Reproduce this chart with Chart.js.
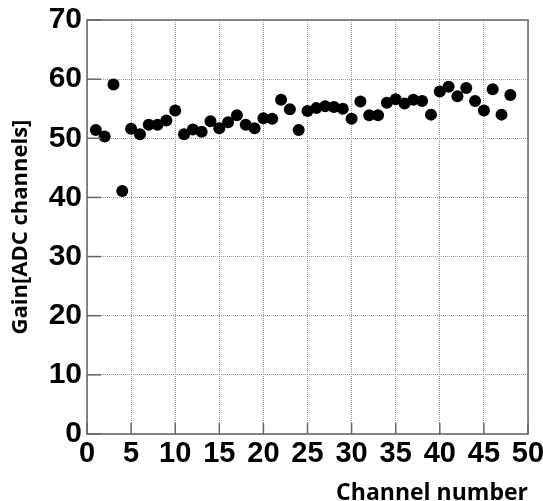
<!DOCTYPE html>
<html>
<head>
<meta charset="utf-8">
<script src="https://cdn.jsdelivr.net/npm/chart.js@4"></script>
<style>
  html, body { margin: 0; padding: 0; background: #fff; }
  #wrap { width: 543px; height: 501px; }
</style>
</head>
<body>
<div id="wrap"><canvas id="gain-chart" width="543" height="501"></canvas></div>
<script>
const channels = [1, 2, 3, 4, 5, 6, 7, 8, 9, 10, 11, 12, 13, 14, 15, 16,
  17, 18, 19, 20, 21, 22, 23, 24, 25, 26, 27, 28, 29, 30, 31, 32,
  33, 34, 35, 36, 37, 38, 39, 40, 41, 42, 43, 44, 45, 46, 47, 48];
const gains = [51.4, 50.3, 59.1, 41.1, 51.6, 50.7, 52.3, 52.3, 53.0, 54.7, 50.7, 51.5, 51.1, 52.9, 51.7, 52.7,
  53.9, 52.3, 51.7, 53.4, 53.3, 56.5, 54.9, 51.4, 54.6, 55.1, 55.4, 55.3, 55.0, 53.3, 56.2, 53.9,
  53.9, 56.0, 56.6, 55.9, 56.5, 56.3, 54.0, 57.9, 58.7, 57.1, 58.5, 56.3, 54.7, 58.3, 54.0, 57.3];
const xRange = [0, 50];
const yRange = [0, 70];
const xStep = 5;
const yStep = 10;

// frame + inner tick marks, like the ROOT canvas
const frameTicks = {
  id: 'frameTicks',
  afterDraw(chart) {
    const ctx = chart.ctx;
    const area = chart.chartArea;
    const x = chart.scales.x;
    const y = chart.scales.y;
    ctx.save();
    ctx.strokeStyle = '#666';
    ctx.lineWidth = 1.5;
    x.ticks.forEach(t => {
      const px = x.getPixelForValue(t.value);
      ctx.beginPath();
      ctx.moveTo(px, area.bottom);
      ctx.lineTo(px, area.bottom - 11);
      ctx.stroke();
    });
    y.ticks.forEach(t => {
      const py = y.getPixelForValue(t.value);
      ctx.beginPath();
      ctx.moveTo(area.left, py);
      ctx.lineTo(area.left + 14, py);
      ctx.stroke();
    });
    ctx.strokeRect(area.left, area.top, area.right - area.left, area.bottom - area.top);
    ctx.restore();
  }
};

new Chart("gain-chart", {
  type: "scatter",
  data: {
    datasets: [{
      data: channels.map((c, i) => ({ x: c, y: gains[i] })),
      backgroundColor: "#000",
      borderWidth: 0,
      pointRadius: 6,
      pointHoverRadius: 6,
    }],
  },
  options: {
    responsive: false,
    animation: false,
    events: [],
    layout: {
      padding: { left: 0, right: 15, top: 20, bottom: 0 }
    },
    plugins: {
      legend: { display: false },
      tooltip: { enabled: false },
    },
    scales: {
      x: {
        type: 'linear',
        min: xRange[0],
        max: xRange[1],
        afterFit: (scale) => {
          scale.height = 67;
          scale.paddingLeft = 0;
          scale.paddingRight = 0;
        },
        ticks: {
          stepSize: xStep,
          padding: 5,
          color: '#000',
          font: { family: 'Liberation Sans', weight: 'bold', size: 29, lineHeight: 1 },
          maxRotation: 0,
        },
        grid: {
          color: '#999',
          lineWidth: 1,
          drawTicks: false,
        },
        border: { display: false, dash: [1, 1] },
        title: {
          display: true,
          text: 'Channel number',
          align: 'end',
          color: '#000',
          font: { family: 'Open Sans', weight: 'bold', size: 23, lineHeight: 1 },
          padding: { top: 0, bottom: -4 },
        },
      },
      y: {
        type: 'linear',
        min: yRange[0],
        max: yRange[1],
        afterFit: (scale) => { scale.width = 87; },
        ticks: {
          stepSize: yStep,
          padding: 5,
          color: '#000',
          font: { family: 'Liberation Sans', weight: 'bold', size: 30, lineHeight: 1 },
        },
        grid: {
          color: '#999',
          lineWidth: 1,
          drawTicks: false,
        },
        border: { display: false, dash: [1, 1] },
        title: {
          display: true,
          text: 'Gain[ADC channels]',
          color: '#000',
          font: { family: 'Open Sans', weight: 'bold', size: 22, lineHeight: 1.2 },
          padding: { top: 8, bottom: 0 },
        },
      },
    },
  },
  plugins: [frameTicks],
});
</script>
</body>
</html>
